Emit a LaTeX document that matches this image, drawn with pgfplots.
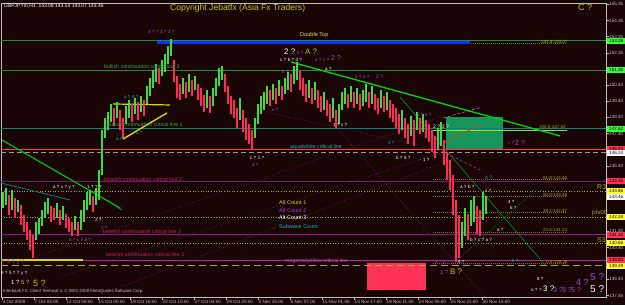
\documentclass[border=0pt]{standalone}
\usepackage{fontspec}
\setmainfont{Liberation Sans}
\usepackage{pgfplots}
\pgfplotsset{compat=1.18}
\usepackage{pgfplotstable}
\newcommand\fs[1]{\fontsize{#1}{#1}\selectfont}
\definecolor{bgc}{HTML}{1A0505}
\definecolor{axgray}{HTML}{C0C0C0}
\definecolor{upc}{HTML}{3CDC3C}
\definecolor{dnc}{HTML}{FF2A55}
\definecolor{glin}{HTML}{1E8C3C}
\definecolor{blu}{HTML}{1030FF}
\definecolor{teal2}{HTML}{0A7F8A}
\definecolor{redl}{HTML}{FF3355}
\definecolor{purl}{HTML}{701A70}
\definecolor{olv}{HTML}{A8A820}
\definecolor{mag}{HTML}{B020A0}
\definecolor{yel}{HTML}{D8D800}
\definecolor{cpy}{HTML}{C8C800}
\definecolor{grtxt}{HTML}{2AA84A}
\definecolor{aqua}{HTML}{20B0B0}
\definecolor{rtxt}{HTML}{C82060}
\definecolor{ptxt}{HTML}{A040E0}
\definecolor{rectg}{HTML}{16965A}
\definecolor{lime}{HTML}{33FF33}
\definecolor{boxy}{HTML}{FFFF33}
\definecolor{boxr}{HTML}{FF3355}
\tikzset{lbl/.style={anchor=west, inner sep=0pt}}

\pgfplotstableread{
x hi lo d
3 143.82 142.83 1
6 144.06 143.02 1
9 143.63 142.40 0
12 143.94 142.71 1
15 143.45 142.22 0
18 143.33 142.59 1
21 143.02 141.79 0
24 142.40 141.36 0
27 141.97 140.87 0
30 141.48 140.26 0
33 141.18 139.76 0
36 141.97 140.87 1
39 142.22 141.24 1
42 142.71 141.73 1
45 143.20 142.22 1
48 143.45 142.47 1
51 142.96 141.97 0
54 142.83 142.10 0
57 143.14 142.22 1
60 142.71 141.79 0
63 142.96 142.10 1
66 142.47 141.61 0
69 142.22 141.36 0
72 141.97 141.12 0
75 142.34 141.48 1
78 141.97 141.12 0
81 142.71 141.48 1
84 143.33 141.97 1
87 143.82 142.71 1
90 143.94 143.02 1
93 143.57 142.59 0
96 144.06 143.02 1
99 145.17 143.33 1
102 147.62 144.86 1
105 148.36 147.13 1
108 148.73 147.62 1
111 149.22 148.11 1
114 148.97 147.87 0
117 149.34 148.36 1
120 148.85 147.62 0
123 148.36 147.13 0
126 149.10 147.99 1
129 149.47 148.36 1
132 149.22 148.11 0
135 149.59 148.61 1
138 149.34 148.24 0
141 149.71 148.73 1
144 149.47 148.48 0
147 150.33 149.22 1
150 150.82 149.71 1
153 151.31 150.20 1
156 151.68 150.57 1
159 151.43 150.45 0
162 151.92 150.94 1
165 152.29 151.18 1
168 152.78 151.68 1
171 153.21 152.17 1
174 151.92 150.57 0
177 150.94 149.59 0
180 150.45 149.47 0
183 150.82 149.83 1
186 150.57 149.59 0
189 151.06 149.96 1
192 150.69 149.71 0
195 150.94 150.08 1
198 150.45 149.47 0
201 150.20 149.10 0
204 149.77 148.73 0
207 150.08 148.97 1
210 149.71 148.67 0
213 150.20 149.10 1
216 150.82 149.71 1
219 151.43 150.33 1
222 151.55 150.69 1
225 151.06 149.96 0
228 150.33 149.22 0
231 149.71 148.61 0
234 149.47 148.36 0
237 148.97 147.75 0
240 149.59 148.24 1
243 148.85 147.50 0
246 148.36 147.01 0
249 147.99 146.76 0
252 147.62 146.40 0
255 148.36 147.13 1
258 149.22 147.99 1
261 149.71 148.61 1
264 149.96 148.85 1
267 150.33 149.22 1
270 150.08 149.10 0
273 150.45 149.47 1
276 150.20 149.22 0
279 150.69 149.71 1
282 150.33 149.47 0
285 150.82 149.83 1
288 151.18 150.08 1
291 151.06 149.96 0
294 151.55 150.45 1
297 151.80 150.69 1
300 151.31 150.08 0
303 150.82 149.71 0
306 150.45 149.34 0
309 150.69 149.59 1
312 150.20 149.22 0
315 150.57 149.47 1
318 150.08 148.97 0
321 149.71 148.73 0
324 149.96 148.85 1
327 149.47 148.48 0
330 149.22 148.11 0
333 149.59 148.36 1
336 148.85 147.75 0
339 149.22 147.99 1
342 149.96 148.85 1
345 150.20 149.22 1
348 149.83 148.97 0
351 150.33 149.34 1
354 149.96 148.97 0
357 150.20 149.22 1
360 149.83 148.85 0
363 150.08 149.10 1
366 150.45 149.34 1
369 149.96 148.97 0
372 150.33 149.22 1
375 149.83 148.85 0
378 149.59 148.61 0
381 150.08 148.97 1
384 149.71 148.73 0
387 149.96 148.85 1
390 149.47 148.36 0
393 149.22 148.11 0
396 148.97 147.75 0
399 148.61 147.38 0
402 148.85 147.62 1
405 148.36 147.13 0
408 147.99 146.76 0
411 148.48 147.26 1
414 148.24 146.64 0
417 148.73 147.62 1
420 148.36 147.38 0
423 148.61 147.50 1
426 148.24 147.13 0
429 147.99 146.89 0
432 147.62 146.27 0
435 147.26 145.90 0
438 147.75 146.40 1
441 148.11 146.64 1
444 147.01 145.47 0
447 146.27 144.55 0
450 145.78 143.94 0
453 144.86 142.40 0
456 143.33 139.52 0
459 142.40 139.76 0
462 141.97 140.38 1
465 142.83 141.12 1
468 142.47 140.87 0
471 143.33 141.73 1
474 143.57 141.97 1
477 142.96 141.24 0
480 142.71 141.12 0
483 143.82 142.10 1
486 143.57 142.47 1
}\candles

\begin{document}
\begin{tikzpicture}[x=1bp,y=1bp]
\useasboundingbox (0,0) rectangle (625,305);
\fill[bgc] (0,0) rectangle (625,305);
\begin{axis}[
  at={(1bp,8bp)}, anchor=south west,
  scale only axis, width=605bp, height=294bp,
  xmin=1, xmax=606, ymin=137.37, ymax=155.42,
  clip=false,
  axis line style={draw=axgray, line width=0.5bp},
  tick style={draw=axgray, line width=0.5bp},
  tick align=outside, major tick length=2.5bp,
  xtick pos=bottom, ytick pos=right,
  xtick={2,34,66,98,130,162,194,226,258,290,322,354,386,418,450,482},
  xticklabels={4 Oct 2009,7 Oct 04:00,12 Oct 08:00,15 Oct 00:00,19 Oct 16:00,22 Oct 10:00,27 Oct 04:00,29 Oct 20:00,3 Nov 15:00,6 Nov 07:00,11 Nov 01:00,13 Nov 17:00,18 Nov 11:00,23 Nov 05:00,25 Nov 21:00,30 Nov 15:00},
  xticklabel style={font=\fs{4.6}, text=axgray, anchor=north west, inner sep=0pt, xshift=0.5bp, yshift=-0.8bp},
  ytick={155.35,154.35,153.35,152.35,150.40,149.40,148.40,147.40,145.40,141.40,140.40,138.45,137.46},
  yticklabels={155.35,154.35,153.35,152.35,150.40,149.40,148.40,147.40,145.40,141.40,140.40,138.45,137.46},
  yticklabel style={font=\fs{4.6}, text=axgray, anchor=west, inner sep=0pt, xshift=0.5bp},
]
% ---- rectangles
\addplot[draw=none, fill=rectg] coordinates {(446,148.42) (503,148.42) (503,146.40) (446,146.40)} -- cycle;
\addplot[draw=none, fill=redl] coordinates {(367,139.46) (426,139.46) (426,137.80) (367,137.80)} -- cycle;
% ---- horizontal levels
\addplot[glin, line width=0.9bp] coordinates {(1,153.09) (606,153.09)};
\addplot[glin, line width=0.9bp] coordinates {(1,151.30) (606,151.30)};
\addplot[teal2, line width=0.9bp] coordinates {(1,147.70) (606,147.70)};
\addplot[redl, line width=1bp] coordinates {(1,146.45) (606,146.45)};
\addplot[gray!80, line width=0.8bp, dash pattern=on 5bp off 3bp] coordinates {(1,146.27) (606,146.27)};
\addplot[purl, line width=0.9bp] coordinates {(1,144.49) (606,144.49)};
\addplot[olv, line width=0.6bp, dotted] coordinates {(1,143.88) (606,143.88)};
\addplot[olv, line width=0.6bp, dotted] coordinates {(1,142.28) (606,142.28)};
\addplot[purl!80!magenta, line width=0.9bp] coordinates {(1,141.18) (606,141.18)};
\addplot[olv, line width=0.6bp, dotted] coordinates {(1,140.68) (606,140.68)};
\addplot[mag, line width=0.9bp] coordinates {(1,139.64) (606,139.64)};
\addplot[olv, line width=0.8bp, dash pattern=on 7bp off 4bp] coordinates {(1,139.28) (606,139.28)};
\addplot[yel, line width=1.6bp] coordinates {(2,139.66) (83,139.66)};
% ---- fibonacci lines
\addplot[olv!70!black, line width=1bp, dash pattern=on 1bp off 1bp] coordinates {(433,152.92) (567,152.92)};
\addplot[yel!70!green, line width=0.9bp] coordinates {(433,147.62) (567,147.62)};
\addplot[olv!70!black, line width=1bp, dash pattern=on 1bp off 1bp] coordinates {(433,144.61) (567,144.61)};
\addplot[olv!70!black, line width=1bp, dash pattern=on 1bp off 1bp] coordinates {(433,143.53) (567,143.53)};
\addplot[olv!70!black, line width=1bp, dash pattern=on 1bp off 1bp] coordinates {(433,142.53) (567,142.53)};
\addplot[olv!70!black, line width=1bp, dash pattern=on 1bp off 1bp] coordinates {(433,141.36) (567,141.36)};
\addplot[olv!70!black, line width=1bp, dash pattern=on 1bp off 1bp] coordinates {(433,139.45) (567,139.45)};
% ---- blue double top line
\addplot[blu, line width=3.2bp] coordinates {(157,153.00) (470,153.00)};
% ---- diagonal lines
\addplot[mag, line width=0.5bp, dotted] coordinates {(32,139.76) (440,148.42)};
\addplot[mag, line width=0.5bp, dotted] coordinates {(60,138.60) (450,146.40)};
\addplot[mag, line width=0.5bp, dotted] coordinates {(100,137.50) (455,145.90)};
\addplot[mag, line width=0.5bp, dotted] coordinates {(265,148.73) (440,146.40)};
\addplot[mag, line width=0.5bp, dotted] coordinates {(330,148.24) (485,137.37)};
\addplot[mag, line width=0.5bp, dotted] coordinates {(25,138.91) (60,137.37)};
\addplot[mag, line width=0.6bp, dash pattern=on 3bp off 2bp] coordinates {(433,146.58) (480,145.17)};
\addplot[mag!70!white, line width=0.6bp, dash pattern=on 3bp off 2bp] coordinates {(443,148.36) (480,149.00)};
\addplot[orange!70!black, line width=0.8bp] coordinates {(443,146.83) (482,147.99)};
\addplot[green!85!black, line width=1.3bp] coordinates {(291,151.80) (560,147.26)};
\addplot[green!80!black, line width=1.1bp] coordinates {(2,147.01) (120,142.83)};
\addplot[green!70!black, line width=0.8bp] coordinates {(107,143.33) (122,142.71)};
\addplot[teal2, line width=0.8bp] coordinates {(1,144.37) (70,143.33)};
\addplot[green!60!black, line width=0.6bp] coordinates {(400,149.65) (545,139.34)};
\addplot[green!60!black, line width=0.7bp, dotted] coordinates {(455,139.52) (530,143.63)};
\addplot[yel, line width=1.2bp] coordinates {(113,149.22) (170,149.16)};
\addplot[yel, line width=1.4bp] coordinates {(123,147.07) (167,148.67)};
% ---- candles
\addplot[draw=none, mark=none, restrict expr to domain={\thisrow{d}}{0.5:1.5},
  error bars/.cd, y dir=plus, y explicit, error mark=none,
  error bar style={draw=upc, line width=1.5bp}]
  table[x=x, y=lo, y error expr=\thisrow{hi}-\thisrow{lo}] {\candles};
\addplot[draw=none, mark=none, restrict expr to domain={\thisrow{d}}{-0.5:0.5},
  error bars/.cd, y dir=plus, y explicit, error mark=none,
  error bar style={draw=dnc, line width=1.5bp}]
  table[x=x, y=lo, y error expr=\thisrow{hi}-\thisrow{lo}] {\candles};
% ---- texts
\node[lbl, font=\fs{5}, text=white] at (axis cs:4,155.24) {GBPJPYm,H1\ \ 143.09 143.54 143.07 143.46};
\node[lbl, font=\fs{8.6}, text=cpy] at (axis cs:170,155.12) {Copyright Jebatfx (Asia Fx Traders)};
\node[lbl, font=\fs{9}, text=cpy] at (axis cs:578,155.12) {C ?};
\node[lbl, font=\fs{5.6}, text=yel!70!white] at (axis cs:300,153.46) {Double Top};
\node[lbl, font=\fs{4.5}, text=olv] at (axis cs:541,153.03) {161.8-153.07};
\node[lbl, font=\fs{4.5}, text=olv] at (axis cs:539,147.80) {100.0-147.62};
\node[lbl, font=\fs{4.5}, text=olv] at (axis cs:543,144.70) {61.8-144.46};
\node[lbl, font=\fs{4.5}, text=olv] at (axis cs:543,143.63) {50.0-143.46};
\node[lbl, font=\fs{4.5}, text=olv] at (axis cs:543,142.65) {38.2-142.47};
\node[lbl, font=\fs{4.5}, text=olv] at (axis cs:543,141.48) {23.6-141.24};
\node[lbl, font=\fs{4.5}, text=olv] at (axis cs:546,139.55) {0.0-139.26};
\node[lbl, font=\fs{7}, text=olv] at (axis cs:597,144.12) {R3};
\node[lbl, font=\fs{6.5}, text=olv] at (axis cs:592,142.53) {pivot};
\node[lbl, font=\fs{7}, text=olv] at (axis cs:597,140.87) {S3};
\node[lbl, font=\fs{5.3}, text=grtxt] at (axis cs:104,151.49) {bullish continuation critical line 2};
\node[lbl, font=\fs{5.3}, text=grtxt] at (axis cs:107,147.93) {bullish continuation critical line 1};
\node[lbl, font=\fs{5.3}, text=aqua] at (axis cs:290,146.58) {aqua/white critical line};
\node[lbl, font=\fs{5.3}, text=rtxt] at (axis cs:104,144.55) {bearish continuation critical line 2};
\node[lbl, font=\fs{5.3}, text=rtxt] at (axis cs:103,141.36) {bearish continuation critical line 2};
\node[lbl, font=\fs{5.3}, text=rtxt] at (axis cs:106,139.95) {bearish continuation critical line 3};
\node[lbl, font=\fs{5.3}, text=mag!80!white] at (axis cs:285,139.58) {magenta/yellow critical line};
\node[lbl, font=\fs{5.5}, text=yel] at (axis cs:279,143.14) {Alt Count 1};
\node[lbl, font=\fs{5.5}, text=ptxt] at (axis cs:279,142.65) {Alt Count 2};
\node[lbl, font=\fs{5.5}, text=white] at (axis cs:279,142.22) {Alt Count 3};
\node[lbl, font=\fs{5.5}, text=aqua] at (axis cs:279,141.67) {Subwave Count};
\node[lbl, font=\fs{4.3}, text=axgray] at (axis cs:3,137.70) {Interbank FX, Client Terminal 4, \textcopyright\ 2001-2008 MetaQuotes Software Corp.};
% wave labels
\node[lbl, font=\fs{4.5}, text=ptxt] at (axis cs:148,153.64) {3 ? ? 3 ? 3 ?};
\node[lbl, font=\fs{8}, text=white] at (axis cs:284,152.41) {2 ?};
\node[lbl, font=\fs{4.5}, text=ptxt] at (axis cs:297,152.35) {b ?};
\node[lbl, font=\fs{8}, text=cpy] at (axis cs:305,152.41) {A ?};
\node[lbl, font=\fs{4.5}, text=white] at (axis cs:280,151.92) {c ? b ? d ?};
\node[lbl, font=\fs{4.5}, text=ptxt] at (axis cs:315,151.92) {e ? c ?};
\node[lbl, font=\fs{7}, text=ptxt] at (axis cs:331,152.05) {2 ?};
\node[lbl, font=\fs{4.5}, text=white] at (axis cs:325,151.40) {a ?};
\node[lbl, font=\fs{4.5}, text=ptxt] at (axis cs:282,151.18) {b ?};
\node[lbl, font=\fs{4.5}, text=ptxt] at (axis cs:355,150.90) {2 ? a ?};
\node[lbl, font=\fs{5}, text=ptxt] at (axis cs:376,150.90) {2 ?};
\node[lbl, font=\fs{4.5}, text=aqua] at (axis cs:124,149.65) {a ? d ?};
\node[lbl, font=\fs{4.5}, text=aqua] at (axis cs:116,147.10) {a ?};
\node[lbl, font=\fs{4.5}, text=aqua] at (axis cs:136,147.45) {b ?};
\node[lbl, font=\fs{4.5}, text=ptxt] at (axis cs:272,148.85) {e ?};
\node[lbl, font=\fs{4.5}, text=white] at (axis cs:333,147.93) {1 ? c ?};
\node[lbl, font=\fs{4.5}, text=aqua] at (axis cs:388,146.83) {3 ?};
\node[lbl, font=\fs{4.5}, text=white] at (axis cs:250,145.90) {c ? 1 ?};
\node[lbl, font=\fs{4.5}, text=ptxt] at (axis cs:252,145.47) {4 ?};
\node[lbl, font=\fs{4.5}, text=white] at (axis cs:396,145.90) {b ? 5 ?};
\node[lbl, font=\fs{4.5}, text=ptxt] at (axis cs:417,148.55) {a ? b ?};
\node[lbl, font=\fs{5}, text=white] at (axis cs:433,147.80) {2 ? 3 ?};
\node[lbl, font=\fs{4.5}, text=white] at (axis cs:423,145.78) {1 ?};
\node[lbl, font=\fs{4.5}, text=ptxt] at (axis cs:508,146.80) {c ?};
\node[lbl, font=\fs{7}, text=ptxt] at (axis cs:515,146.85) {2 ?};
\node[lbl, font=\fs{5}, text=aqua] at (axis cs:485,144.68) {4 ?};
\node[lbl, font=\fs{4.5}, text=white] at (axis cs:460,144.12) {a ? b ?};
\node[lbl, font=\fs{4.5}, text=white] at (axis cs:485,143.88) {c ?};
\node[lbl, font=\fs{4.5}, text=white] at (axis cs:508,143.20) {4 ?};
\node[lbl, font=\fs{4.5}, text=white] at (axis cs:510,142.85) {6 ?};
\node[lbl, font=\fs{4.5}, text=white] at (axis cs:497,141.48) {a ?};
\node[lbl, font=\fs{4.5}, text=white] at (axis cs:470,140.90) {b ? c ? a ?};
\node[lbl, font=\fs{4.5}, text=ptxt] at (axis cs:435,139.52) {a ? b ? c ?};
\node[lbl, font=\fs{4.5}, text=white] at (axis cs:458,139.52) {8 ?};
\node[lbl, font=\fs{4.5}, text=aqua] at (axis cs:512,139.58) {b ?};
\node[lbl, font=\fs{6}, text=ptxt] at (axis cs:440,138.91) {1 ?};
\node[lbl, font=\fs{8}, text=cpy] at (axis cs:450,138.91) {B ?};
\node[lbl, font=\fs{4.5}, text=white] at (axis cs:53,144.12) {a ? x ? y ?};
\node[lbl, font=\fs{4.5}, text=white] at (axis cs:87,144.12) {1 ? ? ?};
\node[lbl, font=\fs{4.5}, text=white] at (axis cs:95,142.10) {2 ?};
\node[lbl, font=\fs{4.5}, text=ptxt] at (axis cs:101,141.60) {3 ?};
\node[lbl, font=\fs{4.5}, text=ptxt] at (axis cs:69,140.90) {b ? c ? d ?};
\node[lbl, font=\fs{5.5}, text=ptxt] at (axis cs:2,139.48) {? 5 ? y ?};
\node[lbl, font=\fs{4.5}, text=white] at (axis cs:1,138.82) {e ? 5 ? ? y ?};
\node[lbl, font=\fs{6}, text=white] at (axis cs:11,138.25) {1 ?};
\node[lbl, font=\fs{6}, text=cpy] at (axis cs:21,138.25) {5 ?};
\node[lbl, font=\fs{9}, text=cpy] at (axis cs:33,138.20) {5 ?};
\node[lbl, font=\fs{4.5}, text=white] at (axis cs:537,138.50) {8 ?};
\node[lbl, font=\fs{9}, text=ptxt] at (axis cs:576,138.29) {4 ?};
\node[lbl, font=\fs{10}, text=ptxt] at (axis cs:590,138.62) {5 ?};
\node[lbl, font=\fs{4.5}, text=white] at (axis cs:531,137.80) {o ? ?};
\node[lbl, font=\fs{8}, text=white] at (axis cs:543,137.85) {3 ?};
\node[lbl, font=\fs{7}, text=ptxt] at (axis cs:553,137.82) {3 ?};
\node[lbl, font=\fs{7}, text=ptxt] at (axis cs:562,137.82) {3 ?};
\node[lbl, font=\fs{7}, text=ptxt] at (axis cs:571,137.82) {5 ?};
\node[lbl, font=\fs{10}, text=white] at (axis cs:590,137.85) {5 ?};
% coordinates for price boxes
\coordinate (b1) at (axis cs:606,153.09);
\coordinate (b2) at (axis cs:606,151.30);
\coordinate (b3) at (axis cs:606,147.70);
\coordinate (b4) at (axis cs:606,146.45);
\coordinate (b5) at (axis cs:606,146.22);
\coordinate (b6) at (axis cs:606,144.49);
\coordinate (b7) at (axis cs:606,143.88);
\coordinate (b8) at (axis cs:606,143.50);
\coordinate (b9) at (axis cs:606,142.28);
\coordinate (b10) at (axis cs:606,141.18);
\coordinate (b11) at (axis cs:606,140.68);
\coordinate (b12) at (axis cs:606,139.64);
\coordinate (b13) at (axis cs:606,139.28);
\end{axis}
\tikzset{pbox/.style={anchor=west, inner sep=0pt, minimum width=18bp, minimum height=6.2bp, font=\fs{4.6}, text=black, xshift=1bp}}
\node[pbox, fill=lime] at (b1) {153.09};
\node[pbox, fill=lime] at (b2) {151.30};
\node[pbox, fill=lime] at (b3) {147.62};
\node[pbox, fill=boxr] at (b4) {146.44};
\node[pbox, fill=white] at (b5) {146.24};
\node[pbox, fill=boxr] at (b6) {144.46};
\node[pbox, fill=boxy] at (b7) {143.86};
\node[pbox, fill=white] at (b8) {143.46};
\node[pbox, fill=boxy] at (b9) {142.28};
\node[pbox, fill=boxr] at (b10) {141.18};
\node[pbox, fill=boxy] at (b11) {140.66};
\node[pbox, fill=boxr] at (b12) {139.60};
\node[pbox, fill=boxy] at (b13) {139.28};
\end{tikzpicture}
\end{document}
